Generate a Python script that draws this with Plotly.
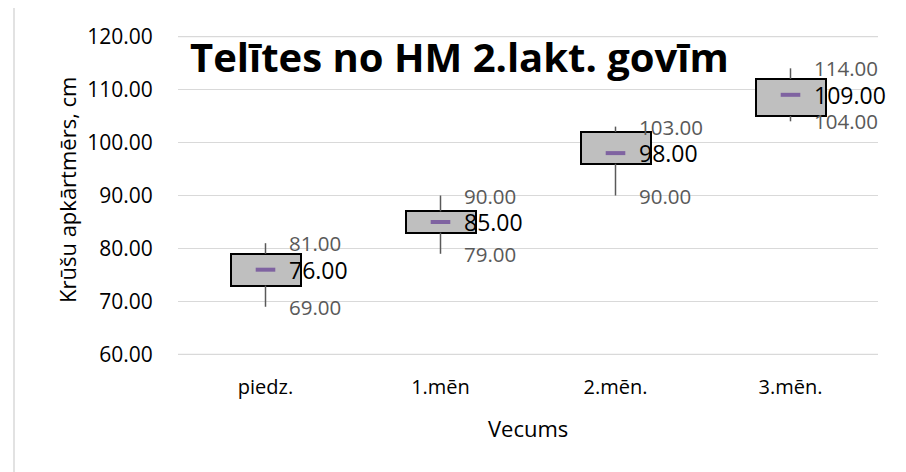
import plotly.graph_objects as go

categories = ["piedz.", "1.mēn", "2.mēn.", "3.mēn."]
low_vals = [69, 79, 90, 104]
q1_vals = [73, 83, 96, 105]
mean_vals = [76, 85, 98, 109]
q3_vals = [79, 87, 102, 112]
high_vals = [81, 90, 103, 114]
y_ticks = [60, 70, 80, 90, 100, 110, 120]

FONT = "Open Sans"
xs = list(range(len(categories)))

fig = go.Figure()

# whiskers (outside the box only)
wx, wy = [], []
for i in xs:
    wx += [i, i, None, i, i, None]
    wy += [low_vals[i], q1_vals[i], None, q3_vals[i], high_vals[i], None]
fig.add_trace(go.Scatter(x=wx, y=wy, mode="lines",
                         line=dict(color="#595959", width=1.5),
                         hoverinfo="skip", showlegend=False))

# boxes
fig.add_trace(go.Bar(x=xs, y=[q3_vals[i] - q1_vals[i] for i in xs], base=q1_vals,
                     width=0.4, marker=dict(color="#bfbfbf", line=dict(color="#000000", width=2)),
                     showlegend=False))

# mean markers
fig.add_trace(go.Scatter(x=xs, y=mean_vals, mode="markers",
                         marker=dict(symbol="line-ew", size=14,
                                     line=dict(color="#7f63a1", width=4)),
                         showlegend=False))

annotations = []
for i in xs:
    for v, col, sz in [(high_vals[i], "#595959", 20.5), (low_vals[i], "#595959", 20.5),
                       (mean_vals[i], "#000000", 23)]:
        annotations.append(dict(x=i, y=v, xref="x", yref="y", text=f"{v:.2f}",
                                showarrow=False, xanchor="left", yanchor="middle",
                                xshift=21, font=dict(family=FONT, size=sz, color=col)))

# page has an 8px body margin, so figure coords = screen coords - 8
OFF = 8
L, R, T, B = 178 - OFF, 878 - OFF, 36 - OFF, 355 - OFF
W, H = 906, 472
def px(x):
    return (x - OFF - L) / (R - L)
def py(y):
    return (B - (y - OFF)) / (B - T)

annotations.append(dict(x=px(459.5), y=py(56.5), xref="paper", yref="paper",
                        text="<b>Telītes no HM 2.lakt. govīm</b>", showarrow=False,
                        xanchor="center", yanchor="middle",
                        font=dict(family=FONT, size=40, color="#000000")))
annotations.append(dict(x=px(67), y=py(190), xref="paper", yref="paper",
                        text="Krūšu apkārtmērs, cm", showarrow=False, textangle=-90,
                        xanchor="center", yanchor="middle",
                        font=dict(family=FONT, size=22, color="#000000")))
annotations.append(dict(x=px(528), y=py(428), xref="paper", yref="paper",
                        text="Vecums", showarrow=False,
                        xanchor="center", yanchor="middle",
                        font=dict(family=FONT, size=22, color="#000000")))

shapes = [dict(type="rect", xref="paper", yref="paper",
               x0=px(14), x1=px(1000), y0=py(1000), y1=py(5),
               line=dict(color="#d9d9d9", width=1.5), layer="below")]
# gridlines at the range ends (plotly omits them at the plot edges)
for v in (min(y_ticks), max(y_ticks)):
    shapes.append(dict(type="line", xref="paper", yref="y", x0=0, x1=1, y0=v, y1=v,
                       line=dict(color="#d9d9d9", width=1.3), layer="below"))

fig.update_layout(
    width=W, height=H,
    margin=dict(l=L, r=W - R, t=T, b=H - B, pad=0),
    paper_bgcolor="white", plot_bgcolor="white",
    annotations=annotations,
    shapes=shapes,
    xaxis=dict(range=[-0.5, 3.5], tickvals=xs, ticktext=categories,
               showgrid=False, zeroline=False, showline=False,
               ticks="outside", ticklen=14, tickcolor="rgba(0,0,0,0)",
               tickfont=dict(family=FONT, size=20, color="#000000")),
    yaxis=dict(range=[59.9, 120.1], tickvals=y_ticks,
               ticktext=[f"{v:.2f}" for v in y_ticks],
               showgrid=True, gridcolor="#d9d9d9", gridwidth=1.3,
               zeroline=False, showline=False,
               ticks="outside", ticklen=20, tickcolor="rgba(0,0,0,0)",
               tickfont=dict(family=FONT, size=21, color="#000000")),
    bargap=0,
)

fig.write_html("out.html")
